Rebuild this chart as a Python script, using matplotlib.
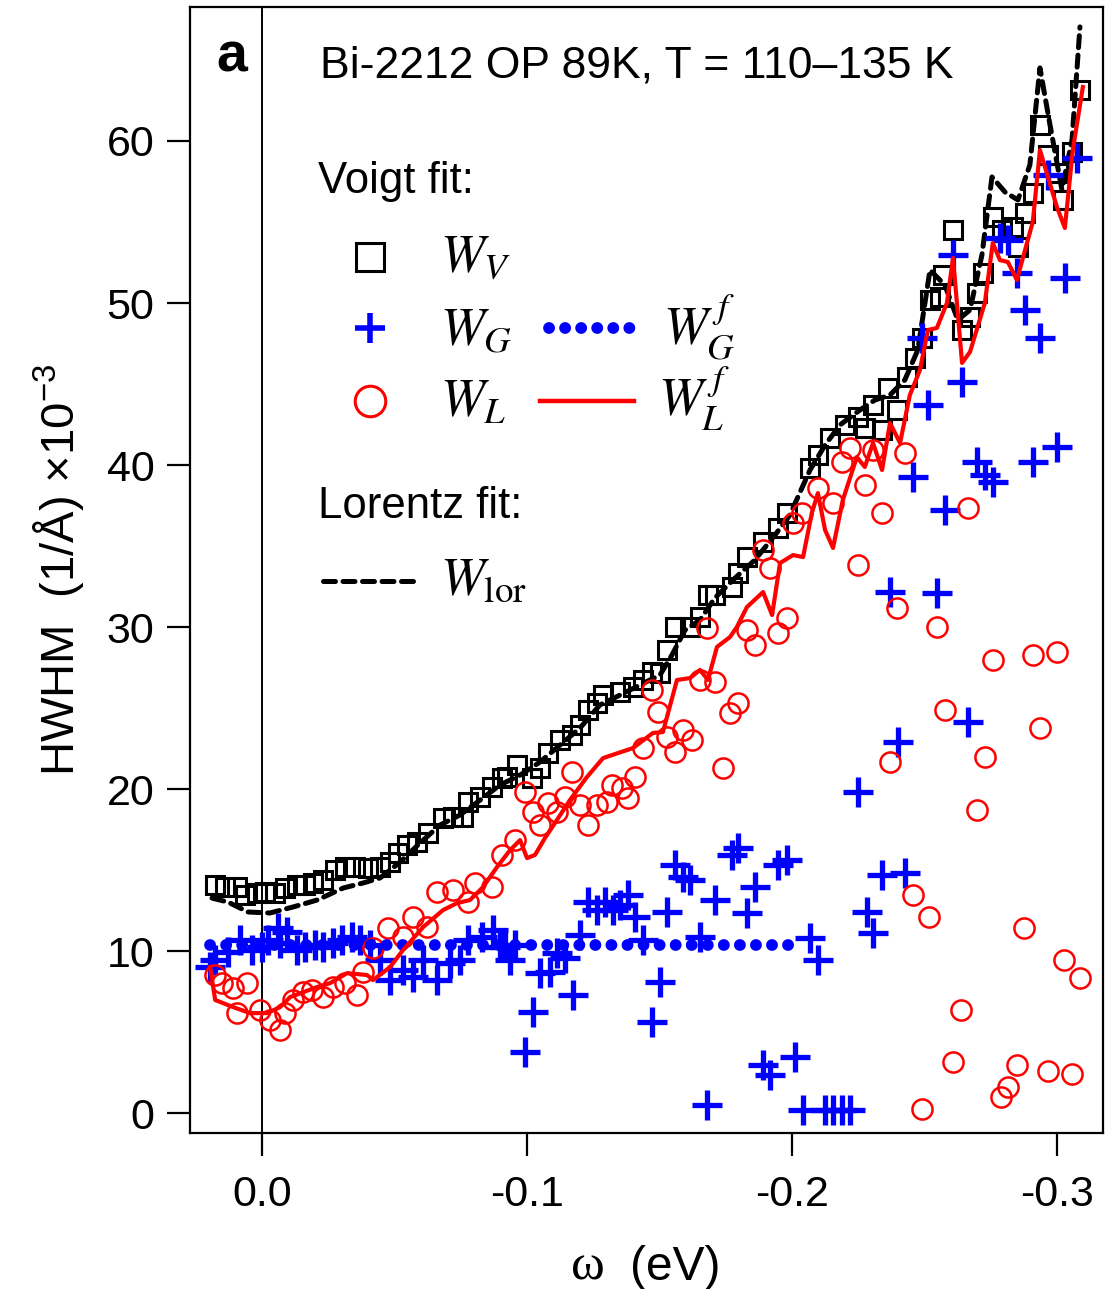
import matplotlib
matplotlib.use("Agg")
import matplotlib.pyplot as plt
from matplotlib.ticker import FixedLocator, FormatStrFormatter

plt.rcParams['font.family'] = ['Liberation Sans', 'DejaVu Sans']
plt.rcParams['axes.unicode_minus'] = False
plt.rcParams['mathtext.fontset'] = 'custom'
plt.rcParams['mathtext.rm'] = 'Liberation Sans'
plt.rcParams['mathtext.it'] = 'Liberation Sans:italic'

# ---- data (omega in eV, widths in 1e-3 1/A) ----
wv_x = [0.0177, 0.0140, 0.0094, 0.0064, 0.0019, -0.0011, -0.0049, -0.0087, -0.0132, -0.0162,
        -0.0192, -0.0230, -0.0275, -0.0313, -0.0351, -0.0400, -0.0445, -0.0483, -0.0513, -0.0547,
        -0.0585, -0.0626, -0.0683, -0.0721, -0.0758, -0.0777, -0.0823, -0.0868, -0.0906, -0.0925,
        -0.0962, -0.1019, -0.1049, -0.1079, -0.1125, -0.1170, -0.1200, -0.1230, -0.1264, -0.1287,
        -0.1351, -0.1400, -0.1438, -0.1472, -0.1502, -0.1528, -0.1558, -0.1615, -0.1653, -0.1683,
        -0.1709, -0.1774, -0.1796, -0.1830, -0.1891, -0.1947, -0.1981, -0.2068, -0.2098, -0.2143,
        -0.2200, -0.2249, -0.2275, -0.2306, -0.2340, -0.2362, -0.2396, -0.2434, -0.2464, -0.2491,
        -0.2521, -0.2558, -0.2570, -0.2608, -0.2642, -0.2672, -0.2698, -0.2721, -0.2758, -0.2792,
        -0.2834, -0.2853, -0.2879, -0.2909, -0.2936, -0.2966, -0.3004, -0.3023, -0.3057, -0.3087]
wv_y = [14.07, 13.95, 13.95, 13.46, 13.58, 13.64, 13.58, 13.89, 14.07, 14.07,
        14.20, 14.38, 15.00, 15.19, 15.19, 15.12, 15.19, 15.49, 16.05, 16.54,
        16.73, 17.28, 18.21, 18.27, 18.27, 19.20, 19.51, 20.12, 20.68, 20.74,
        21.48, 20.68, 21.30, 22.22, 23.02, 23.33, 23.95, 24.88, 25.31, 25.80,
        25.99, 26.30, 26.73, 27.22, 27.16, 28.58, 30.00, 30.00, 30.62, 31.98,
        31.98, 32.47, 33.33, 34.32, 35.25, 36.11, 37.04, 39.81, 40.62, 41.67,
        42.47, 42.96, 42.28, 43.70, 42.16, 44.75, 43.40, 45.43, 46.60, 47.84,
        50.19, 50.37, 51.73, 54.51, 48.33, 49.14, 50.62, 51.85, 55.31, 54.51,
        54.69, 53.46, 55.56, 56.79, 60.99, 59.14, 58.02, 56.36, 59.32, 63.15]

wg_x = [0.0196, 0.0177, 0.0128, 0.0083, 0.0038, 0.0000, -0.0023, -0.0060, -0.0068, -0.0094,
        -0.0132, -0.0162, -0.0200, -0.0230, -0.0268, -0.0302, -0.0340, -0.0370, -0.0408, -0.0445,
        -0.0483, -0.0532, -0.0570, -0.0608, -0.0660, -0.0709, -0.0747, -0.0777, -0.0830, -0.0872,
        -0.0898, -0.0917, -0.0936, -0.0955, -0.0992, -0.1023, -0.1049, -0.1087, -0.1113, -0.1143,
        -0.1174, -0.1200, -0.1230, -0.1264, -0.1294, -0.1325, -0.1351, -0.1381, -0.1408, -0.1438,
        -0.1472, -0.1502, -0.1528, -0.1558, -0.1589, -0.1615, -0.1653, -0.1679, -0.1709, -0.1774,
        -0.1796, -0.1830, -0.1860, -0.1891, -0.1917, -0.1947, -0.1981, -0.2011, -0.2042, -0.2068,
        -0.2098, -0.2125, -0.2155, -0.2189, -0.2219, -0.2249, -0.2283, -0.2306, -0.2340, -0.2370,
        -0.2400, -0.2426, -0.2457, -0.2491, -0.2513, -0.2547, -0.2577, -0.2608, -0.2642, -0.2664,
        -0.2698, -0.2728, -0.2758, -0.2785, -0.2815, -0.2849, -0.2879, -0.2909, -0.2936, -0.2966,
        -0.3000, -0.3030, -0.3075]
wg_y = [9.01, 9.44, 9.94, 10.68, 10.06, 10.25, 10.68, 11.42, 10.49, 11.17,
        10.06, 10.25, 10.37, 10.25, 10.49, 10.68, 10.86, 10.68, 10.37, 9.44,
        8.21, 8.83, 8.40, 9.44, 8.21, 9.26, 9.44, 10.68, 10.86, 11.30,
        10.25, 10.25, 9.44, 10.37, 3.77, 6.23, 8.64, 8.70, 9.88, 9.57,
        7.28, 10.99, 13.02, 12.53, 13.02, 12.53, 12.84, 13.46, 12.10, 10.68,
        5.62, 8.09, 12.41, 15.31, 14.57, 14.38, 10.86, 0.49, 13.15, 15.93,
        16.36, 12.35, 13.95, 2.96, 2.35, 15.31, 15.62, 3.46, 0.19, 10.80,
        9.44, 0.19, 0.19, 0.19, 0.19, 19.81, 12.41, 11.11, 14.69, 32.16,
        22.90, 14.81, 39.26, 47.84, 43.70, 32.10, 37.22, 52.96, 45.12, 24.14,
        40.19, 39.38, 38.95, 54.01, 53.89, 51.85, 49.57, 40.19, 47.84, 57.90,
        41.11, 51.54, 58.95]

wl_x = [0.0177, 0.0151, 0.0109, 0.0094, 0.0057, 0.0008, -0.0030, -0.0068, -0.0087, -0.0117,
        -0.0155, -0.0189, -0.0230, -0.0268, -0.0313, -0.0358, -0.0381, -0.0419, -0.0475, -0.0532,
        -0.0570, -0.0623, -0.0660, -0.0721, -0.0777, -0.0804, -0.0868, -0.0906, -0.0955, -0.0992,
        -0.1023, -0.1049, -0.1079, -0.1113, -0.1143, -0.1170, -0.1200, -0.1230, -0.1264, -0.1302,
        -0.1321, -0.1358, -0.1381, -0.1408, -0.1438, -0.1472, -0.1494, -0.1528, -0.1558, -0.1589,
        -0.1623, -0.1653, -0.1679, -0.1709, -0.1740, -0.1766, -0.1796, -0.1830, -0.1860, -0.1891,
        -0.1917, -0.1947, -0.1981, -0.2004, -0.2038, -0.2098, -0.2155, -0.2189, -0.2219, -0.2249,
        -0.2275, -0.2306, -0.2340, -0.2370, -0.2396, -0.2426, -0.2457, -0.2491, -0.2517, -0.2547,
        -0.2577, -0.2608, -0.2638, -0.2664, -0.2698, -0.2728, -0.2758, -0.2789, -0.2815, -0.2849,
        -0.2875, -0.2909, -0.2936, -0.2966, -0.3000, -0.3026, -0.3057, -0.3087]
wl_y = [8.52, 8.02, 7.72, 6.17, 8.02, 6.36, 5.74, 5.12, 6.17, 6.98,
        7.47, 7.59, 7.16, 7.78, 8.02, 7.28, 8.70, 10.19, 11.42, 10.86,
        12.10, 11.48, 13.64, 13.77, 13.02, 14.20, 13.95, 15.93, 16.85, 19.81,
        18.58, 17.78, 19.14, 18.58, 19.51, 21.05, 19.01, 17.78, 19.01, 19.20,
        20.25, 20.06, 19.44, 20.74, 22.53, 26.11, 24.75, 23.21, 22.28, 23.64,
        23.02, 26.73, 29.94, 26.60, 21.30, 24.69, 25.31, 29.81, 28.89, 34.75,
        33.64, 29.63, 30.56, 36.42, 37.04, 38.58, 37.65, 40.19, 41.05, 33.83,
        38.77, 40.93, 37.04, 21.67, 31.17, 40.74, 13.46, 0.25, 12.10, 30.00,
        24.88, 3.15, 6.36, 37.35, 18.70, 21.98, 27.96, 0.99, 1.60, 2.96,
        11.42, 28.27, 23.77, 2.59, 28.46, 9.44, 2.41, 8.33]

# fitted W_L (red line)
wlf_x = [0.0196, 0.0177, 0.0109, 0.0045, -0.0019, -0.0068, -0.0106, -0.0208, -0.0257, -0.0321,
         -0.0396, -0.0419, -0.0483, -0.0532, -0.0608, -0.0683, -0.0736, -0.0785, -0.0834, -0.0887,
         -0.0936, -0.0974, -0.1000, -0.1030, -0.1068, -0.1113, -0.1162, -0.1226, -0.1287, -0.1400,
         -0.1475, -0.1513, -0.1566, -0.1615, -0.1653, -0.1683, -0.1717, -0.1766, -0.1792, -0.1830,
         -0.1891, -0.1925, -0.1955, -0.2004, -0.2042, -0.2075, -0.2098, -0.2125, -0.2155, -0.2192,
         -0.2245, -0.2275, -0.2306, -0.2340, -0.2370, -0.2408, -0.2445, -0.2483, -0.2513, -0.2547,
         -0.2585, -0.2608, -0.2642, -0.2672, -0.2728, -0.2758, -0.2785, -0.2815, -0.2849, -0.2887,
         -0.2909, -0.2936, -0.2966, -0.3000, -0.3030, -0.3060, -0.3098]
wlf_y = [9.01, 6.98, 6.54, 6.17, 6.17, 6.54, 7.16, 7.78, 8.02, 8.64,
         8.52, 8.21, 9.01, 10.06, 11.48, 12.53, 12.96, 13.15, 13.95, 15.19,
         16.23, 16.85, 15.74, 15.93, 16.98, 18.09, 19.32, 20.74, 21.91, 22.53,
         23.46, 23.52, 26.73, 26.85, 27.35, 26.73, 28.77, 29.38, 30.00, 31.23,
         32.16, 30.74, 33.95, 34.44, 34.32, 37.04, 38.27, 35.99, 34.88, 37.84,
         40.49, 39.88, 41.36, 39.69, 42.59, 41.36, 44.32, 45.86, 48.33, 48.46,
         50.00, 52.78, 46.30, 46.98, 50.00, 53.70, 52.65, 52.53, 51.42, 53.70,
         55.00, 59.44, 57.78, 55.93, 54.63, 59.44, 63.33]

# fitted W_G (blue dotted, flat)
wgf_x = [0.0196, -0.2011]
wgf_y = [10.37, 10.37]

# Lorentz fit width (black dashed)
wlor_x = [0.0189, 0.0128, 0.0053, -0.0030, -0.0117, -0.0208, -0.0306, -0.0381, -0.0445, -0.0521,
          -0.0596, -0.0672, -0.0747, -0.0823, -0.0898, -0.0974, -0.1049, -0.1125, -0.1200, -0.1275,
          -0.1351, -0.1426, -0.1502, -0.1547, -0.1596, -0.1653, -0.1709, -0.1785, -0.1860, -0.1936,
          -0.1992, -0.2068, -0.2125, -0.2181, -0.2257, -0.2313, -0.2370, -0.2426, -0.2475, -0.2521,
          -0.2577, -0.2626, -0.2672, -0.2717, -0.2755, -0.2804, -0.2853, -0.2898, -0.2936, -0.2974,
          -0.3019, -0.3057, -0.3087]
wlor_y = [13.27, 13.02, 12.41, 12.35, 12.72, 13.15, 13.89, 14.20, 14.51, 15.49,
          16.67, 17.78, 18.40, 19.32, 20.25, 20.86, 21.67, 22.72, 23.77, 25.19,
          25.80, 26.42, 27.04, 28.27, 29.81, 30.43, 31.79, 33.02, 34.14, 35.68,
          36.91, 39.69, 41.23, 42.47, 43.40, 44.01, 44.32, 45.25, 47.10, 52.04,
          51.11, 48.95, 49.57, 52.96, 57.78, 56.85, 56.36, 58.52, 64.51, 60.99,
          56.98, 60.06, 67.04]

x_ticks = [0.0, -0.1, -0.2, -0.3]
y_ticks = [0, 10, 20, 30, 40, 50, 60]

BLUE = (0, 0, 1)
RED = (1, 0, 0)

fig = plt.figure(figsize=(11.06, 12.89), dpi=100)
ax = fig.add_axes([190 / 1106, 1 - 1133 / 1289, 913 / 1106, 1126 / 1289])

ax.axvline(0, color='black', lw=1.4, zorder=1)

ax.plot(wlor_x, wlor_y, color='black', lw=3.6, ls=(0, (2.4, 1.5)),
        dash_capstyle='round', zorder=2)
ax.plot(wv_x, wv_y, ls='none', marker='s', ms=13.5, mfc='none', mec='black', mew=2.2, zorder=3)
ax.plot(wg_x, wg_y, ls='none', marker='+', ms=21, mec=BLUE, mew=3.8, zorder=4)
ax.plot(wl_x, wl_y, ls='none', marker='o', ms=14.5, mfc='none', mec=RED, mew=1.8, zorder=5)
ax.plot(wgf_x, wgf_y, color=BLUE, lw=8.5, ls=(0, (0.01, 1.35)), dash_capstyle='round', zorder=6)
ax.plot(wlf_x, wlf_y, color=RED, lw=3.0, zorder=7)

ax.set_xlim(0.0272, -0.3174)
ax.set_ylim(-1.23, 68.27)
ax.xaxis.set_major_locator(FixedLocator(x_ticks))
ax.xaxis.set_major_formatter(FormatStrFormatter('%.1f'))
ax.yaxis.set_major_locator(FixedLocator(y_ticks))

for s in ax.spines.values():
    s.set_linewidth(1.6)
ax.tick_params(axis='both', direction='out', length=16.5, width=1.6, labelsize=31)
ax.tick_params(axis='x', pad=14)
ax.tick_params(axis='y', pad=9)

# texts
tr = ax.transAxes
ax.text(0.046, 0.9423, 'a', fontsize=40, fontweight='bold', ha='center', va='baseline', transform=tr)
ax.text(0.1424, 0.9378, 'Bi-2212 OP 89K, T = 110\u2013135 K', fontsize=32, va='baseline', transform=tr)
ax.text(0.1402, 0.8348, 'Voigt fit:', fontsize=31.5, va='baseline', transform=tr)
ax.text(0.1402, 0.5462, 'Lorentz fit:', fontsize=31.5, va='baseline', transform=tr)

# legend symbols
ax.plot([0.1972], [0.7780], marker='s', ms=20, mfc='none', mec='black', mew=2.2,
        transform=tr, clip_on=False)
ax.plot([0.1972], [0.7149], marker='+', ms=21, mec=BLUE, mew=4.0, transform=tr, clip_on=False)
ax.plot([0.1972], [0.6501], marker='o', ms=22, mfc='none', mec=RED, mew=2.2,
        transform=tr, clip_on=False)
ax.plot([0.3928, 0.4970], [0.7149, 0.7149], color=BLUE, lw=8.5, ls=(0, (0.01, 1.35)),
        dash_capstyle='round', transform=tr, clip_on=False)
ax.plot([0.3834, 0.4862], [0.6501, 0.6501], color=RED, lw=3.2, transform=tr, clip_on=False)
ax.plot([0.1457, 0.2497], [0.4902, 0.4902], color='black', lw=3.6, ls=(0, (2.4, 1.5)),
        dash_capstyle='round', transform=tr, clip_on=False)

mkw = dict(fontsize=38, math_fontfamily='stix', va='baseline', transform=tr)
ax.text(0.2738, 0.7638, r'$W_V$', **mkw)
ax.text(0.2738, 0.6998, r'$W_G$', **mkw)
ax.text(0.2738, 0.6359, r'$W_L$', **mkw)
ax.text(0.5181, 0.6998, r'$W_G^{\,f}$', **mkw)
ax.text(0.5126, 0.6359, r'$W_L^{\,f}$', **mkw)
ax.text(0.2738, 0.4778, r'$W_{\mathrm{lor}}$', **mkw)

# axis labels
fig.text(59 / 1106, 1 - 570 / 1289, 'HWHM  (1/\u00c5) \u00d710$^{-3}$', rotation=90,
         fontsize=34, ha='center', va='center')
fig.text(588 / 1106, 1 - 1280 / 1289, '\u03c9', family='Liberation Serif', fontsize=37,
         ha='center', va='baseline')
fig.text(630 / 1106, 1 - 1280 / 1289, '(eV)', fontsize=34.5, ha='left', va='baseline')

fig.savefig('out.png', dpi=100)
